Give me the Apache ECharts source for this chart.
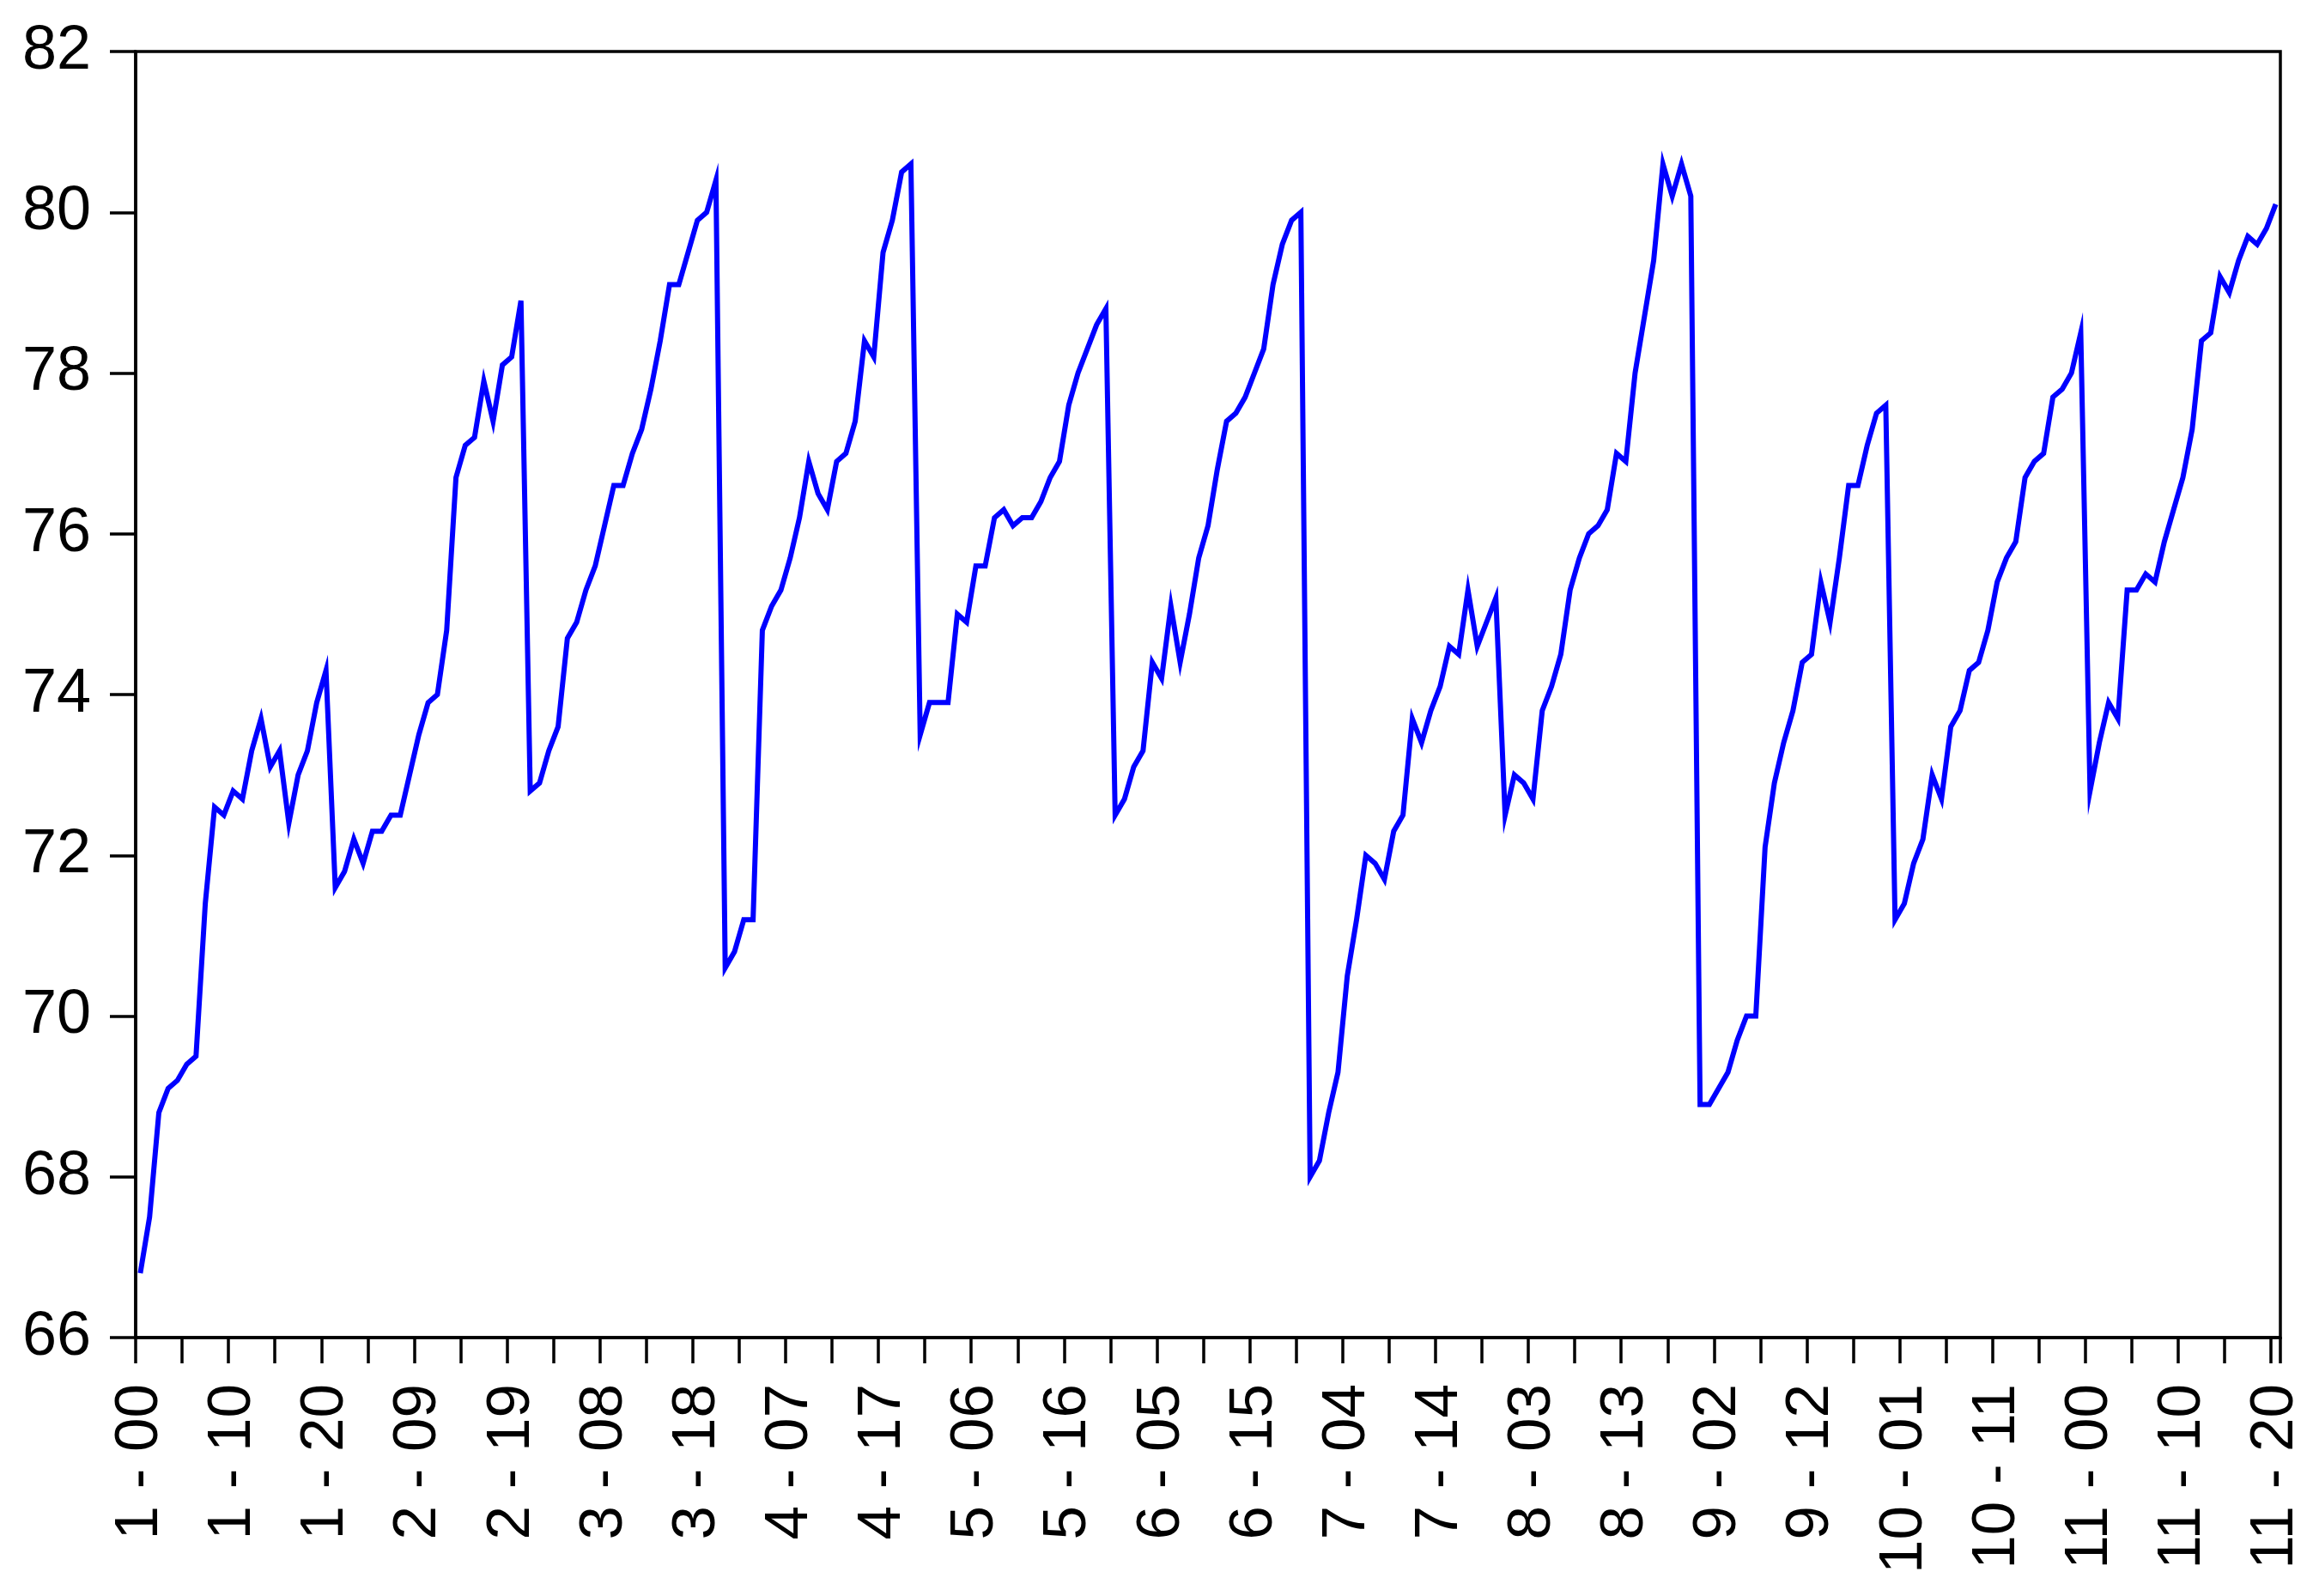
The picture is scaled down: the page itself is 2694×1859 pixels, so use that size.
<!DOCTYPE html>
<html>
<head>
<meta charset="utf-8">
<script src="https://cdn.jsdelivr.net/npm/echarts@6/dist/echarts.min.js"></script>
<style>
  html, body { margin: 0; padding: 0; background: #ffffff; }
  #chart { width: 2694px; height: 1859px; }
</style>
</head>
<body>
<div id="chart"></div>
<script>
// Observations per period: labels "P - 00" .. "P - 20"
const periods = [1, 2, 3, 4, 5, 6, 7, 8, 9, 10, 11];
const subLabels = ['00','01','02','03','04','05','06','07','08','09','10','11','12','13','14','15','16','17','18','19','20'];

// Series values, one array per period
const p1  = [66.8, 67.5, 68.8, 69.1, 69.2, 69.4, 69.5, 71.4, 72.6, 72.5, 72.8, 72.7, 73.3, 73.7, 73.1, 73.3, 72.4, 73.0, 73.3, 73.9, 74.3];
const p2  = [71.6, 71.8, 72.2, 71.9, 72.3, 72.3, 72.5, 72.5, 73.0, 73.5, 73.9, 74.0, 74.8, 76.7, 77.1, 77.2, 77.9, 77.4, 78.1, 78.2, 78.9];
const p3  = [72.8, 72.9, 73.3, 73.6, 74.7, 74.9, 75.3, 75.6, 76.1, 76.6, 76.6, 77.0, 77.3, 77.8, 78.4, 79.1, 79.1, 79.5, 79.9, 80.0, 80.4];
const p4  = [70.6, 70.8, 71.2, 71.2, 74.8, 75.1, 75.3, 75.7, 76.2, 76.9, 76.5, 76.3, 76.9, 77.0, 77.4, 78.4, 78.2, 79.5, 79.9, 80.5, 80.6];
const p5  = [73.5, 73.9, 73.9, 73.9, 75.0, 74.9, 75.6, 75.6, 76.2, 76.3, 76.1, 76.2, 76.2, 76.4, 76.7, 76.9, 77.6, 78.0, 78.3, 78.6, 78.8];
const p6  = [72.5, 72.7, 73.1, 73.3, 74.4, 74.2, 75.1, 74.4, 75.0, 75.7, 76.1, 76.8, 77.4, 77.5, 77.7, 78.0, 78.3, 79.1, 79.6, 79.9, 80.0];
const p7  = [68.0, 68.2, 68.8, 69.3, 70.5, 71.2, 72.0, 71.9, 71.7, 72.3, 72.5, 73.7, 73.4, 73.8, 74.1, 74.6, 74.5, 75.3, 74.6, 74.9, 75.2];
const p8  = [72.5, 73.0, 72.9, 72.7, 73.8, 74.1, 74.5, 75.3, 75.7, 76.0, 76.1, 76.3, 77.0, 76.9, 78.0, 78.7, 79.4, 80.6, 80.2, 80.6, 80.2];
const p9  = [68.9, 68.9, 69.1, 69.3, 69.7, 70.0, 70.0, 72.1, 72.9, 73.4, 73.8, 74.4, 74.5, 75.4, 74.9, 75.7, 76.6, 76.6, 77.1, 77.5, 77.6];
const p10 = [71.2, 71.4, 71.9, 72.2, 73.0, 72.7, 73.6, 73.8, 74.3, 74.4, 74.8, 75.4, 75.7, 75.9, 76.7, 76.9, 77.0, 77.7, 77.8, 78.0, 78.5];
const p11 = [72.8, 73.4, 73.9, 73.7, 75.3, 75.3, 75.5, 75.4, 75.9, 76.3, 76.7, 77.3, 78.4, 78.5, 79.2, 79.0, 79.4, 79.7, 79.6, 79.8, 80.1];

// Tick labels shown on the x axis (every 10th observation)
const tickLabels = ['1 - 00','1 - 10','1 - 20','2 - 09','2 - 19','3 - 08','3 - 18','4 - 07','4 - 17','5 - 06','5 - 16','6 - 05','6 - 15','7 - 04','7 - 14','8 - 03','8 - 13','9 - 02','9 - 12','10 - 01','10 - 11','11 - 00','11 - 10','11 - 20'];
const yTicks = [66, 68, 70, 72, 74, 76, 78, 80, 82];

const categories = [];
periods.forEach(p => subLabels.forEach(s => categories.push(p + ' - ' + s)));
const values = [].concat(p1, p2, p3, p4, p5, p6, p7, p8, p9, p10, p11);

const FONT = '"Liberation Sans", Arial, sans-serif';
const chart = echarts.init(document.getElementById('chart'), null, { renderer: 'canvas' });
chart.setOption({
  animation: false,
  backgroundColor: '#ffffff',
  grid: {
    left: 158, right: 38, top: 60, bottom: 301,
    show: true, borderColor: '#000000', borderWidth: 3.5, backgroundColor: 'transparent'
  },
  xAxis: {
    type: 'category',
    data: categories,
    boundaryGap: true,
    axisLine: { show: true, lineStyle: { color: '#000000', width: 3.5 } },
    axisTick: { show: true, interval: 4, length: 30, inside: false, lineStyle: { color: '#000000', width: 3.5 } },
    axisLabel: {
      interval: 9,
      rotate: 90,
      margin: 54,
      color: '#000000',
      fontSize: 71,
      fontFamily: FONT,
      formatter: v => (tickLabels.indexOf(v) >= 0 ? v : '')
    },
    splitLine: { show: false }
  },
  yAxis: {
    type: 'value',
    min: yTicks[0],
    max: yTicks[yTicks.length - 1],
    interval: yTicks[1] - yTicks[0],
    axisLine: { show: true, lineStyle: { color: '#000000', width: 3.5 } },
    axisTick: { show: true, length: 30, inside: false, lineStyle: { color: '#000000', width: 3.5 } },
    axisLabel: { color: '#000000', fontSize: 72, fontFamily: FONT, margin: 52 },
    splitLine: { show: false }
  },
  series: [{
    type: 'line',
    data: values,
    showSymbol: false,
    symbol: 'none',
    lineStyle: { color: '#0000ff', width: 6, join: 'miter' },
    itemStyle: { color: '#0000ff' }
  }]
});
</script>
</body>
</html>
